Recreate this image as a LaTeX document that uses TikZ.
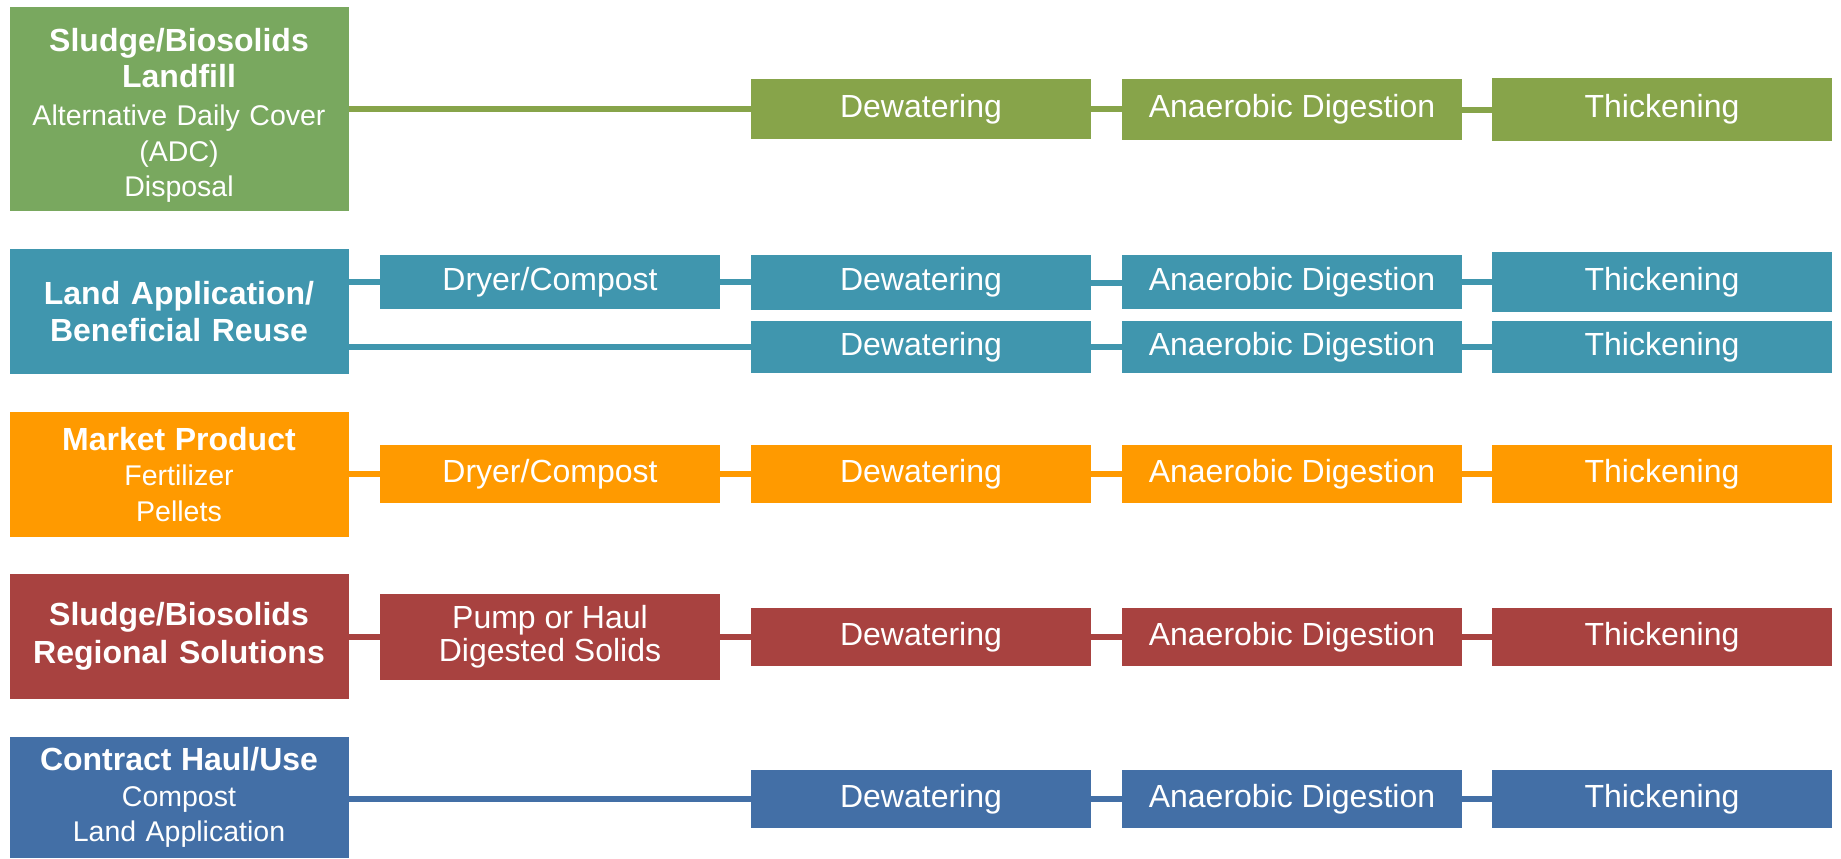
\documentclass[tikz,border=0pt]{standalone}
\usepackage{fontspec}
\setmainfont{Liberation Sans}
\definecolor{gmain}{RGB}{121,168,95}
\definecolor{gstep}{RGB}{135,164,74}
\definecolor{tealc}{RGB}{64,150,174}
\definecolor{orngc}{RGB}{255,154,0}
\definecolor{redc}{RGB}{168,66,64}
\definecolor{bluec}{RGB}{67,111,166}
\newcommand{\bigb}{\fontsize{16}{17.6}\selectfont\bfseries}
\newcommand{\subr}{\fontsize{14.25}{17.6}\selectfont\mdseries}
\begin{document}
\begin{tikzpicture}[x=0.5pt,y=-0.5pt,
  box/.style={rectangle, inner sep=0pt, outer sep=0pt, text=white, align=center},
  mainbox/.style={box, minimum width=169.5pt, text width=165pt, font=\fontsize{14.25}{17.6}\selectfont},
  titlebox/.style={box, minimum width=169.5pt, text width=165pt, font=\fontsize{16}{18.8}\selectfont\bfseries},
  stepbox/.style={box, minimum width=170pt, font=\fontsize{16}{16.5}\selectfont},
  link/.style={line width=3pt}]
\useasboundingbox (0,0) rectangle (1841,858);

% ---------- Row 1: green ----------
\node[mainbox, fill=gmain, minimum height=102pt] (gm) at (179,109)
  {\rule{0pt}{18pt}\bigb Sludge/Biosolids\\[0.3pt] Landfill\\[1.6pt]\subr Alternative Daily Cover\\(ADC)\\Disposal};
\node[stepbox, fill=gstep, minimum height=30pt] (gd) at (921,109) {Dewatering};
\node[stepbox, fill=gstep, minimum height=30.5pt] (ga) at (1292,109.5) {Anaerobic Digestion};
\node[stepbox, fill=gstep, minimum height=31.5pt] (gt) at (1662,109.5) {Thickening};
\draw[link, gstep] (gm.east |- gd.west) -- (gd.west);
\draw[link, gstep] (gd.east) -- (ga.west |- gd.east);
\draw[link, gstep] (ga.east) -- (gt.west |- ga.east);

% ---------- Row 2: teal ----------
\node[titlebox, fill=tealc, minimum height=62.5pt] (tm) at (179,311.5)
  {Land Application/\\Beneficial Reuse};
\node[stepbox, fill=tealc, minimum height=27pt] (tc) at (550,282) {Dryer/Compost};
\node[stepbox, fill=tealc, minimum height=27.5pt] (td) at (921,282.5) {Dewatering};
\node[stepbox, fill=tealc, minimum height=27pt] (ta) at (1292,282) {Anaerobic Digestion};
\node[stepbox, fill=tealc, minimum height=30pt] (tt) at (1662,282) {Thickening};
\node[stepbox, fill=tealc, minimum height=26pt] (td2) at (921,347) {Dewatering};
\node[stepbox, fill=tealc, minimum height=26pt] (ta2) at (1292,347) {Anaerobic Digestion};
\node[stepbox, fill=tealc, minimum height=26pt] (tt2) at (1662,347) {Thickening};
\draw[link, tealc] (tm.east |- tc.west) -- (tc.west);
\draw[link, tealc] (tc.east) -- (td.west |- tc.east);
\draw[link, tealc] (td.east) -- (ta.west |- td.east);
\draw[link, tealc] (ta.east) -- (tt.west |- ta.east);
\draw[link, tealc] (tm.east |- td2.west) -- (td2.west);
\draw[link, tealc] (td2.east) -- (ta2.west);
\draw[link, tealc] (ta2.east) -- (tt2.west);

% ---------- Row 3: orange ----------
\node[mainbox, fill=orngc, minimum height=62.5pt] (om) at (179,474.5)
  {\bigb Market Product\\\subr Fertilizer\\Pellets};
\node[stepbox, fill=orngc, minimum height=29pt] (oc) at (550,474) {Dryer/Compost};
\node[stepbox, fill=orngc, minimum height=29pt] (od) at (921,474) {Dewatering};
\node[stepbox, fill=orngc, minimum height=29pt] (oa) at (1292,474) {Anaerobic Digestion};
\node[stepbox, fill=orngc, minimum height=29pt] (ot) at (1662,474) {Thickening};
\draw[link, orngc] (om.east |- oc.west) -- (oc.west);
\draw[link, orngc] (oc.east) -- (od.west);
\draw[link, orngc] (od.east) -- (oa.west);
\draw[link, orngc] (oa.east) -- (ot.west);

% ---------- Row 4: red ----------
\node[titlebox, fill=redc, minimum height=62.5pt] (rm) at (179,636.5)
  {Sludge/Biosolids\\Regional Solutions};
\node[stepbox, fill=redc, minimum height=43pt] (rp) at (550,637)
  {Pump or Haul\\Digested Solids};
\node[stepbox, fill=redc, minimum height=29pt] (rd) at (921,637) {Dewatering};
\node[stepbox, fill=redc, minimum height=29pt] (ra) at (1292,637) {Anaerobic Digestion};
\node[stepbox, fill=redc, minimum height=29pt] (rt) at (1662,637) {Thickening};
\draw[link, redc] (rm.east |- rp.west) -- (rp.west);
\draw[link, redc] (rp.east) -- (rd.west);
\draw[link, redc] (rd.east) -- (ra.west);
\draw[link, redc] (ra.east) -- (rt.west);

% ---------- Row 5: blue ----------
\node[mainbox, fill=bluec, minimum height=60.5pt] (bm) at (179,797.5)
  {\bigb Contract Haul/Use\\\subr Compost\\Land Application};
\node[stepbox, fill=bluec, minimum height=29pt] (bd) at (921,799) {Dewatering};
\node[stepbox, fill=bluec, minimum height=29pt] (ba) at (1292,799) {Anaerobic Digestion};
\node[stepbox, fill=bluec, minimum height=29pt] (bt) at (1662,799) {Thickening};
\draw[link, bluec] (bm.east |- bd.west) -- (bd.west);
\draw[link, bluec] (bd.east) -- (ba.west);
\draw[link, bluec] (ba.east) -- (bt.west);
\end{tikzpicture}
\end{document}
